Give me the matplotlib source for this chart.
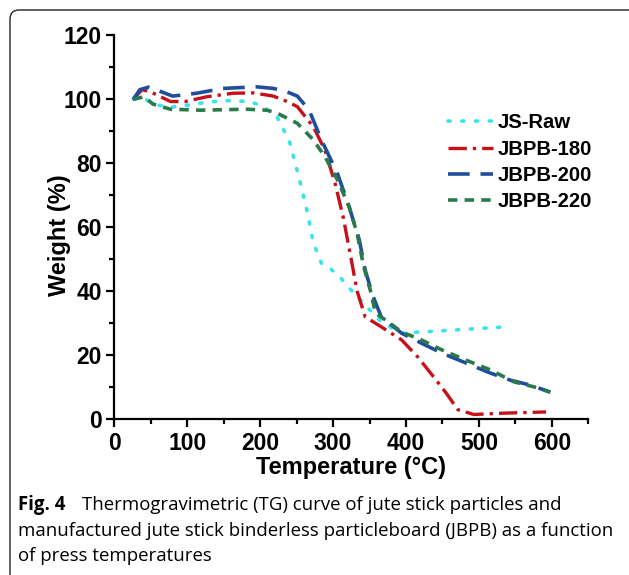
import matplotlib
matplotlib.use("Agg")
import matplotlib.pyplot as plt
import matplotlib.patches as mpatches
import matplotlib.transforms as mtransforms
from matplotlib.ticker import MultipleLocator

# TG curves: temperature (°C) and weight (%)
raw_T = [26, 40, 58, 80, 101, 130, 158, 185, 203, 223, 240, 253, 264, 273,
         284, 294, 311, 328, 344, 366, 394, 421, 466, 537]
raw_W = [100, 100.3, 98.2, 97.6, 98.2, 99.2, 99.6, 99.3, 97.9, 94.5, 87, 75.7,
         65.4, 55, 48.8, 47.6, 44, 39.5, 35.7, 30.4, 26.9, 27.3, 27.9, 28.9]

b180_T = [26, 38, 49, 77, 97, 127, 163, 191, 218, 235, 251, 273, 289, 303,
          314, 325, 333, 344, 366, 394, 416, 438, 455, 471, 493, 532, 592]
b180_W = [100, 103, 102.4, 99.3, 99.3, 100.8, 101.9, 102, 101, 99.5, 97.7,
          91.4, 84, 73.5, 63, 49.8, 40, 32, 28.9, 24.8, 19.5, 13.2, 8.2, 3,
          1.5, 1.9, 2.3]

b200_T = [26, 35, 47, 57, 80, 113, 149, 195, 218, 235, 251, 267, 284, 306,
          322, 336, 344, 355, 366, 394, 421, 449, 482, 515, 542, 570, 598]
b200_W = [100, 103, 103.8, 103, 101, 101.9, 103.4, 103.9, 103.4, 102.5, 101,
          96.7, 87.3, 76.8, 66.4, 56, 46.6, 38.3, 32, 26.9, 23.8, 20.7, 17.6,
          14.5, 12.3, 10.7, 8.5]

b220_T = [26, 41, 53, 77, 118, 182, 209, 223, 251, 273, 289, 306, 322, 333,
          342, 352, 358, 372, 394, 421, 449, 482, 515, 548, 581, 597]
b220_W = [100, 100.8, 98.5, 96.9, 96.6, 96.9, 96.6, 95.7, 92.5, 87.3, 82,
          74.8, 66.4, 58, 47.7, 39.5, 33.2, 31, 27.3, 24.8, 21.7, 18.5, 15.5,
          11.7, 9.8, 8.5]

labels = ["JS-Raw", "JBPB-180", "JBPB-200", "JBPB-220"]
caption_bold = "Fig. 4"
caption_lines = ["Thermogravimetric (TG) curve of jute stick particles and",
                 "manufactured jute stick binderless particleboard (JBPB) as a function",
                 "of press temperatures"]

plt.rcParams["font.family"] = ["Liberation Sans", "DejaVu Sans"]

fig = plt.figure(figsize=(6.29, 5.75), dpi=100)
ax = fig.add_axes([0.1817, 0.2708, 0.7537, 0.6678])

ax.plot(raw_T, raw_W, color="#36e4ee", lw=2.6, ls=(0, (0.6, 3.2)),
        dash_capstyle="round", label=labels[0])
ax.plot(b180_T, b180_W, color="#c8101a", lw=2.4, ls=(0, (5.5, 1.8, 1, 1.8)),
        label=labels[1])
ax.plot(b200_T, b200_W, color="#1f4f9c", lw=2.6, ls=(0, (6, 3)),
        label=labels[2])
ax.plot(b220_T, b220_W, color="#2b7a4b", lw=2.6, ls=(0, (2.6, 2)),
        label=labels[3])

ax.set_xlim(0, 650)
ax.set_ylim(0, 120)
ax.xaxis.set_major_locator(MultipleLocator(100))
ax.xaxis.set_minor_locator(MultipleLocator(50))
ax.yaxis.set_major_locator(MultipleLocator(20))
ax.yaxis.set_minor_locator(MultipleLocator(10))
ax.set_xticks(range(0, 601, 100))
ax.spines["top"].set_visible(False)
ax.spines["right"].set_visible(False)
for s in ["left", "bottom"]:
    ax.spines[s].set_linewidth(1.6)
ax.tick_params(which="major", direction="out", length=6, width=1.6,
               labelsize=16.5, pad=3)
ax.tick_params(which="minor", direction="out", length=3.5, width=1.6)
for lab in ax.get_xticklabels() + ax.get_yticklabels():
    lab.set_fontweight("bold")

ax.set_xlabel("Temperature (°C)", fontsize=17, fontweight="bold", labelpad=1)
ax.set_ylabel("Weight (%)", fontsize=17, fontweight="bold")
ax.yaxis.set_label_coords(-0.092, 0.48)

ax.legend(loc="upper left", bbox_to_anchor=(0.687, 0.818), frameon=False,
          prop={"size": 14.6, "weight": "bold"}, handlelength=2.2,
          handletextpad=0.25, labelspacing=0.36, borderaxespad=0)

# caption under the plot
cap_font = ["Open Sans", "DejaVu Sans"]
fig.text(18 / 629, 1 - 505 / 575, caption_bold, fontsize=13.4,
         fontweight="bold", family=cap_font, va="center", ha="left")
fig.text(82 / 629, 1 - 505 / 575, caption_lines[0], fontsize=13.4,
         family=cap_font, va="center", ha="left")
fig.text(18 / 629, 1 - 531 / 575, caption_lines[1], fontsize=13.4,
         family=cap_font, va="center", ha="left")
fig.text(18 / 629, 1 - 556 / 575, caption_lines[2], fontsize=13.4,
         family=cap_font, va="center", ha="left")

# rounded frame around figure, open at right and bottom edges
frame = mpatches.FancyBboxPatch((10, -30), 660, 595,
                                boxstyle="round,pad=0,rounding_size=9",
                                transform=mtransforms.IdentityTransform(),
                                fill=False, edgecolor="#222222", lw=1.0)
fig.add_artist(frame)

fig.savefig("out.png", dpi=100)
